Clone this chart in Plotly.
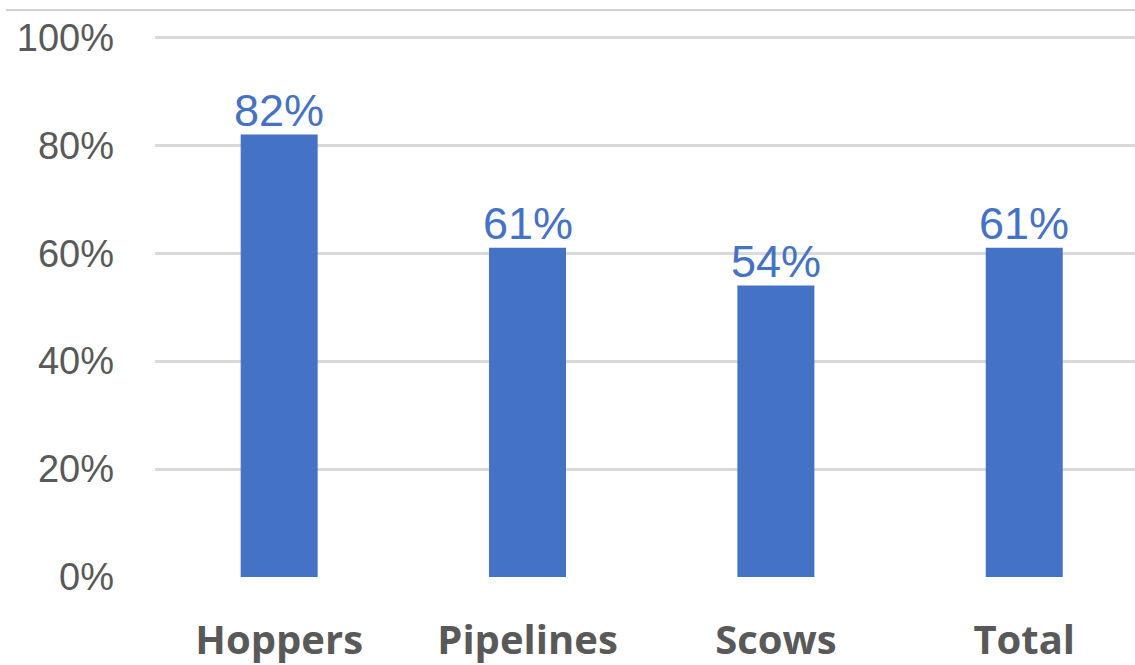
import plotly.graph_objects as go

# Share of work by dredge type
categories = ["Hoppers", "Pipelines", "Scows", "Total"]
shares = [82, 61, 54, 61]
tick_vals = [0, 20, 40, 60, 80, 100]
tick_text = ["0%", "20%", "40%", "60%", "80%", "100%"]

W, H = 1135, 665
L, R, T, B = 155, 0, 32, 88

xpos = list(range(len(categories)))

fig = go.Figure(
    go.Bar(
        x=xpos,
        y=shares,
        width=0.31,
        marker=dict(color="#4472C4", line=dict(width=0)),
        hoverinfo="x+y",
    )
)

# Value labels sitting just above each bar
for xi, v in zip(xpos, shares):
    fig.add_annotation(
        x=xi,
        y=v,
        text=f"{v}%",
        showarrow=False,
        xanchor="center",
        yanchor="bottom",
        yshift=-3,
        font=dict(family="Liberation Sans, Arial", size=45, color="#4472C4"),
    )

fig.update_layout(
    width=W,
    height=H,
    margin=dict(l=L, r=R, t=T, b=B),
    paper_bgcolor="white",
    plot_bgcolor="white",
    showlegend=False,
    xaxis=dict(
        range=[-0.5, 3.446],
        tickvals=xpos,
        ticktext=categories,
        tickfont=dict(family="Open Sans", size=40, color="#595959", weight="bold"),
        showgrid=False,
        zeroline=False,
        showline=False,
        ticks="",
        ticklabelstandoff=36,
    ),
    yaxis=dict(
        range=[0, 101],
        tickvals=tick_vals,
        ticktext=tick_text,
        tickfont=dict(family="Liberation Sans, Arial", size=38, color="#595959"),
        showgrid=True,
        gridcolor="#D9D9D9",
        gridwidth=3,
        zeroline=False,
        showline=False,
        ticks="",
        ticklabelstandoff=40,
    ),
    shapes=[
        dict(
            type="line",
            xref="paper",
            yref="paper",
            x0=(6 - L) / (W - L - R),
            x1=1.0,
            y0=(H - B - 10) / (H - B - T),
            y1=(H - B - 10) / (H - B - T),
            line=dict(color="#D0D0D0", width=2),
        )
    ],
)

fig.write_html("out.html")
